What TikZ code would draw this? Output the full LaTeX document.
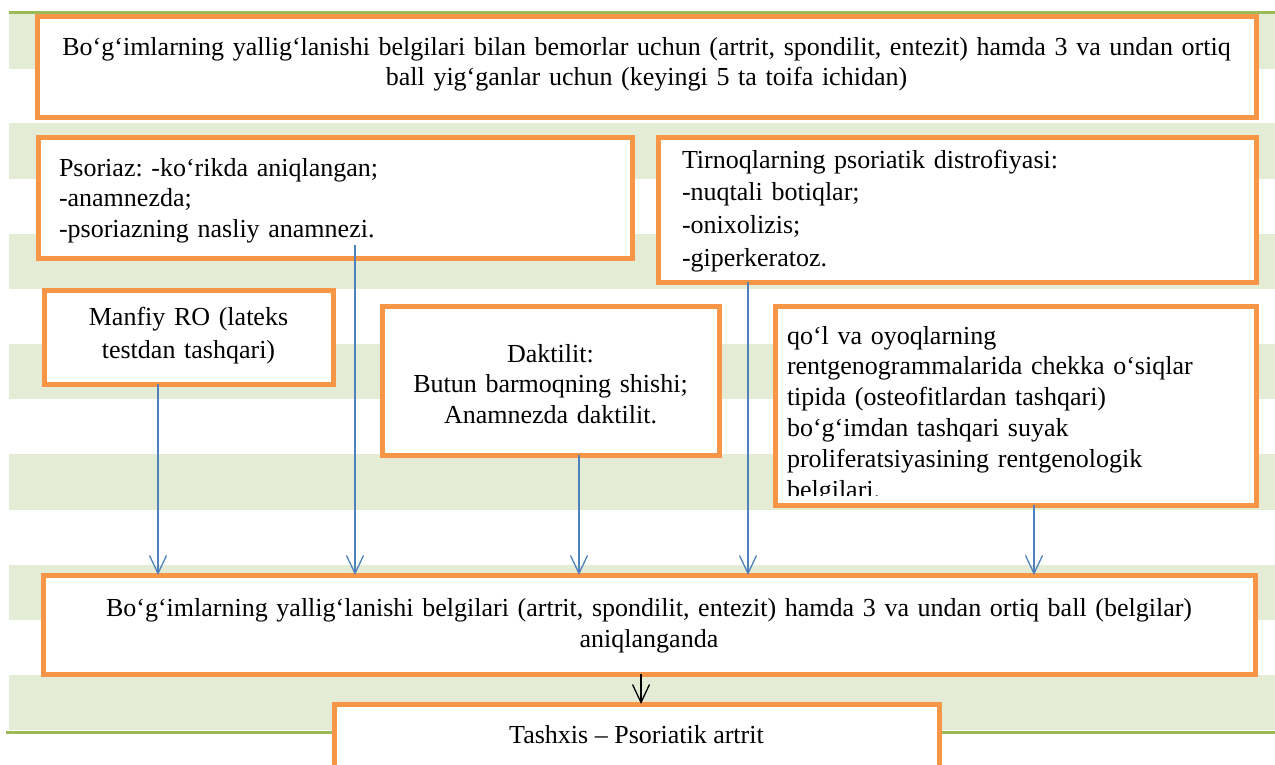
\documentclass[tikz,border=0pt]{standalone}
\usepackage{fontspec}
\setmainfont{Liberation Serif}
\usetikzlibrary{arrows.meta,calc}
\definecolor{boxor}{HTML}{F79646}
\definecolor{arrblue}{HTML}{4F81BD}
\definecolor{gline}{HTML}{9BBB59}
\definecolor{stripe}{HTML}{E4ECD6}
\newcommand{\fsz}{\frenchspacing\fontsize{26}{30.5}\selectfont}
\newcommand{\fszb}{\frenchspacing\fontsize{26}{32.8}\selectfont}
\tikzset{
  box/.style={draw=boxor, line width=5pt, fill=white, inner sep=0pt, outer sep=0pt, font=\fsz},
  txt/.style={inner sep=0pt, outer sep=0pt, font=\fsz},
  arr/.style={draw=arrblue, line width=1.3pt, -{Straight Barb[length=18pt,width=17pt]}},
  barr/.style={draw=black, line width=1.3pt, -{Straight Barb[length=18pt,width=17pt]}},
  gl/.style={draw=gline, line width=3pt}
}
\begin{document}
\begin{tikzpicture}[x=1pt,y=-1pt]
\useasboundingbox (0,0) rectangle (1275,764);
% background stripes
\foreach \i in {0,...,6}{
  \fill[stripe] (9,{13+110.3*\i}) rectangle (1275,{13+110.3*\i+55.5});
}
\draw[gl] (9,12) -- (1275,12);
\draw[gl] (6,732) -- (1275,732);

% boxes
\node[box, minimum width=1219pt, minimum height=101pt] (top) at (646.5,66.5) {};
\node[txt, text width=1200pt, align=center] (toptxt) at (646.5,64.5)
 {Bo‘g‘imlarning yallig‘lanishi belgilari bilan bemorlar uchun (artrit, spondilit, entezit) hamda 3 va undan ortiq\\ball yig‘ganlar uchun (keyingi 5 ta toifa ichidan)};

\node[box, minimum width=594pt, minimum height=121pt] (ps) at (335,197.5) {};
\node[txt, text width=552pt, align=left] (pstxt) at (335,200.5)
 {Psoriaz: -ko‘rikda aniqlangan;\\-anamnezda;\\-psoriazning nasliy anamnezi.};

\node[box, minimum width=598pt, minimum height=145pt] (tn) at (957,209.5) {};
\node[txt, font=\fszb, text width=550pt, align=left] (tntxt) at (957,211)
 {Tirnoqlarning psoriatik distrofiyasi:\\-nuqtali botiqlar;\\-onixolizis;\\-giperkeratoz.};

\node[box, minimum width=289pt, minimum height=94pt] (mf) at (188.5,337) {};
\node[txt, font=\fszb, text width=280pt, align=center] (mftxt) at (188.5,336)
 {Manfiy RO (lateks\\testdan tashqari)};

\node[box, minimum width=337pt, minimum height=149pt] (dk) at (550.5,380.5) {};
\node[txt, text width=320pt, align=center] (dktxt) at (550.5,384)
 {Daktilit:\\Butun barmoqning shishi;\\Anamnezda daktilit.};

\node[box, draw=none, minimum width=481pt, minimum height=199pt] (qo) at (1015.5,405.5) {};
\begin{scope}
\clip (775,306) rectangle (1256,495);
\node[txt, font=\frenchspacing\fontsize{26}{30.8}\selectfont, anchor=north west, text width=465pt, align=left] (qt) at (787,326)
 {qo‘l va oyoqlarning\\rentgenogrammalarida chekka o‘siqlar\\tipida (osteofitlardan tashqari)\\bo‘g‘imdan tashqari suyak\\proliferatsiyasining rentgenologik\\belgilari.};
\end{scope}
\draw[draw=boxor, line width=5pt] (qo.north west) rectangle (qo.south east);

\node[box, minimum width=1212pt, minimum height=99pt] (bot) at (649,624.5) {};
\node[txt, text width=1190pt, align=center] (bottxt) at (649,626)
 {Bo‘g‘imlarning yallig‘lanishi belgilari (artrit, spondilit, entezit) hamda 3 va undan ortiq ball (belgilar)\\aniqlanganda};

\node[box, minimum width=605pt, minimum height=66pt, anchor=north] (tx) at (636.5,704) {};
\node[txt, anchor=base] (txt) at (636.5,743) {Tashxis – Psoriatik artrit};

% connectors
\coordinate (s1) at (158,384);
\coordinate (s2) at (355,245);
\coordinate (s3) at (579,455);
\coordinate (s4) at (748,282);
\coordinate (s5) at (1034,505);
\draw[arr] (s1) -- (s1 |- bot.north);
\draw[arr] (s2) -- (s2 |- bot.north);
\draw[arr] (s3) -- (s3 |- bot.north);
\draw[arr] (s4) -- (s4 |- bot.north);
\draw[arr] (s5) -- (s5 |- bot.north);
\coordinate (s6) at (641,674);
\draw[barr] (s6) -- (s6 |- tx.north);
\end{tikzpicture}
\end{document}
